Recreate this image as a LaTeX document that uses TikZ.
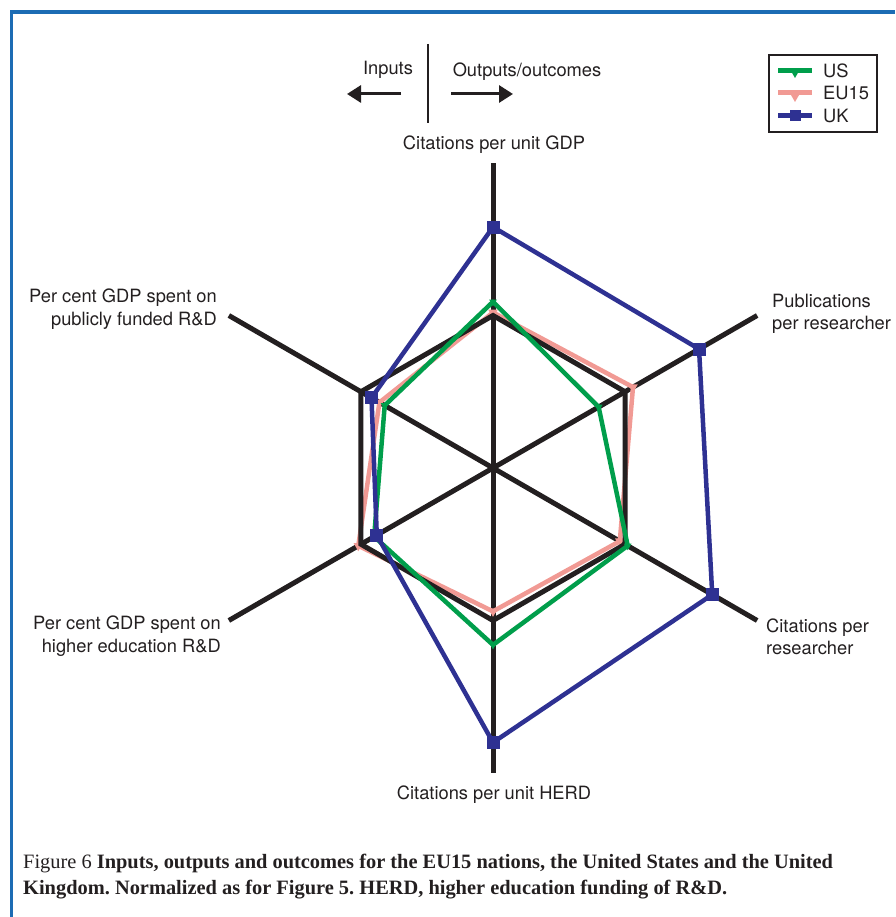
\documentclass[tikz,border=0pt]{standalone}
\usepackage{fontspec}
\setmainfont{TeX Gyre Heros}
\newfontfamily\capfont{Liberation Serif}
\usetikzlibrary{arrows.meta,shapes.geometric}

\definecolor{usgreen}{RGB}{0,158,75}
\definecolor{eupink}{RGB}{241,154,148}
\definecolor{ukblue}{RGB}{46,49,146}
\definecolor{axisblack}{RGB}{35,31,32}
\definecolor{frameblue}{RGB}{28,108,180}

\tikzset{
  axisline/.style={line width=5pt,axisblack},
  series/.style={line width=4.5pt,line join=round},
  ukmark/.style={rectangle,fill=ukblue,minimum size=13pt,inner sep=0pt},
  trimark/.style={regular polygon,regular polygon sides=3,shape border rotate=180,
    inner sep=0pt,minimum size=11pt},
  lbl/.style={font=\fontsize{18.3}{22.5}\selectfont,inner sep=0pt,text=axisblack},
  bigarrow/.style={line width=3pt,axisblack,-{Triangle[length=14pt,width=17pt]}},
}

\begin{document}
\begin{tikzpicture}[x=1pt,y=1pt]
  \useasboundingbox (0,0) rectangle (895,917);
  % Rahmen
  \draw[frameblue,line width=3.5pt] (11.5,0) -- (11.5,905) -- (895,905);

  % Achsen und Daten
  \coordinate (O) at (493,449);
  \foreach \i in {1,...,6} {
    \coordinate (A\i) at ({493+305*cos(90-60*(\i-1))},{449+305*sin(90-60*(\i-1))});
    \coordinate (H\i) at ({493+152.5*cos(90-60*(\i-1))},{449+152.5*sin(90-60*(\i-1))});
  }
  \foreach \i/\u/\e/\k in {1/0.545/0.51/0.79, 2/0.40/0.53/0.78, 3/0.51/0.48/0.83,
                           4/0.58/0.47/0.90, 5/0.45/0.51/0.44, 6/0.41/0.43/0.46} {
    \coordinate (US\i) at ({493+305*\u*cos(90-60*(\i-1))},{449+305*\u*sin(90-60*(\i-1))});
    \coordinate (EU\i) at ({493+305*\e*cos(90-60*(\i-1))},{449+305*\e*sin(90-60*(\i-1))});
    \coordinate (UK\i) at ({493+305*\k*cos(90-60*(\i-1))},{449+305*\k*sin(90-60*(\i-1))});
  }
  \foreach \i in {1,...,6} {
    \draw[axisline] (O) -- (A\i);
  }
  % EU15
  \draw[series,eupink] (EU1) \foreach \i in {2,...,6} {-- (EU\i)} -- cycle;
  \foreach \i in {1,...,6} \node[trimark,fill=eupink] (euM\i) at (EU\i) {};
  % Sechseck
  \draw[axisline,line join=miter] (H1) \foreach \i in {2,...,6} {-- (H\i)} -- cycle;
  % US
  \draw[series,usgreen] (US1) \foreach \i in {2,...,6} {-- (US\i)} -- cycle;
  \foreach \i in {1,...,6} \node[trimark,fill=usgreen,minimum size=9pt] (usM\i) at (US\i) {};
  % UK
  \draw[series,ukblue] (UK1) \foreach \i in {2,...,6} {-- (UK\i)} -- cycle;
  \foreach \i in {1,...,6} \node[ukmark] (ukM\i) at (UK\i) {};

  % Beschriftungen
  \node[lbl] (gdp) at (494,772) {Citations per unit GDP};
  \node[lbl,align=left,anchor=west] (pubres) at (772,603) {Publications\\per researcher};
  \node[lbl,align=left,anchor=west] (citres) at (766,280) {Citations per\\researcher};
  \node[lbl] (herd) at (494,122) {Citations per unit HERD};
  \node[lbl,align=right,anchor=east] (herdgdp) at (221,281) {Per cent GDP spent on\\higher education R\&D};
  \node[lbl,align=right,anchor=east] (pubgdp) at (217,608) {Per cent GDP spent on\\publicly funded R\&D};

  % Inputs / Outputs
  \coordinate (divT) at (428,873);
  \coordinate (divB) at (428,794);
  \draw[axisblack,line width=1.5pt] (divT) -- (divB);
  \node[lbl] (inp) at (388,847) {Inputs};
  \node[lbl] (outp) at (527,845) {Outputs/outcomes};
  \coordinate (inL) at (347,823);
  \coordinate (inR) at (401,823);
  \coordinate (outL) at (451,823);
  \coordinate (outR) at (513,823);
  \draw[bigarrow] (inR) -- (inL);
  \draw[bigarrow] (outL) -- (outR);

  % Legende
  \draw[axisblack,line width=1.2pt] (769,862) rectangle (877,785);
  \foreach \y/\c/\t in {846/usgreen/US, 824/eupink/EU15, 801/ukblue/UK} {
    \coordinate (legL\t) at (778,\y);
    \coordinate (legR\t) at (812,\y);
    \draw[\c,line width=5pt] (legL\t) -- (legR\t);
    \node[lbl,anchor=west] (leg\t) at (823,\y) {\t};
  }
  \node[ukmark,minimum size=11pt] (legMUK) at (795,801) {};
  \node[trimark,fill=eupink,minimum size=12pt] (legMEU) at (795,821) {};
  \node[trimark,fill=usgreen,minimum size=10pt] (legMUS) at (795,844) {};

  % Bildunterschrift
  \node[anchor=north west,align=left,inner sep=0pt,
        font=\capfont\fontsize{20.4}{26}\selectfont\frenchspacing,text=axisblack] (cap) at (23,63)
    {Figure 6 \textbf{Inputs, outputs and outcomes for the EU15 nations, the United States and the United}\\
     \textbf{Kingdom. Normalized as for Figure 5. HERD, higher education funding of R\&D.}};
\end{tikzpicture}
\end{document}
